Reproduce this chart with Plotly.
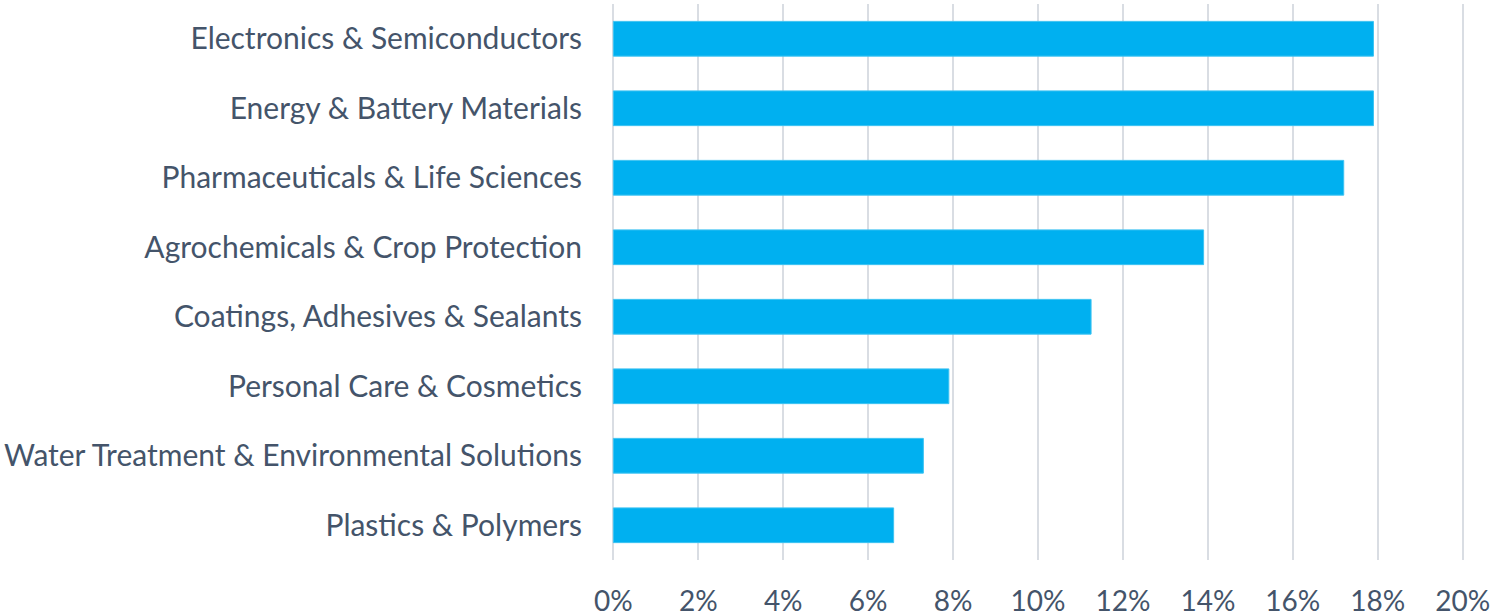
import plotly.graph_objects as go

categories = [
    "Electronics & Semiconductors",
    "Energy & Battery Materials",
    "Pharmaceuticals & Life Sciences",
    "Agrochemicals & Crop Protection",
    "Coatings, Adhesives & Sealants",
    "Personal Care & Cosmetics",
    "Water Treatment & Environmental Solutions",
    "Plastics & Polymers",
]
values = [0.179, 0.179, 0.172, 0.139, 0.1125, 0.079, 0.073, 0.066]
tick_vals = [0, 0.02, 0.04, 0.06, 0.08, 0.10, 0.12, 0.14, 0.16, 0.18, 0.20]
tick_text = ["0%", "2%", "4%", "6%", "8%", "10%", "12%", "14%", "16%", "18%", "20%"]

font_family = "Lato, 'Open Sans', sans-serif"
text_color = "#44546A"

fig = go.Figure(
    go.Bar(
        x=values,
        y=categories,
        orientation="h",
        marker=dict(color="#00B0F0", line=dict(color="#3DC3F2", width=1)),
        hoverinfo="x+y",
    )
)

fig.update_layout(
    width=1491,
    height=616,
    margin=dict(l=607, r=22, t=4, b=56),
    paper_bgcolor="white",
    plot_bgcolor="white",
    bargap=0.5,
    showlegend=False,
    font=dict(family=font_family, color=text_color, size=30),
)
fig.update_xaxes(
    range=[-0.0015, 0.2015],
    tickvals=tick_vals,
    ticktext=tick_text,
    showgrid=True,
    gridcolor="#D9DDE3",
    gridwidth=2,
    zeroline=False,
    showline=False,
    ticks="",
    automargin=False,
    ticklabeloverflow="allow",
    ticklabelstandoff=22,
    tickfont=dict(size=28, color=text_color, family=font_family),
)
fig.update_yaxes(
    categoryorder="array",
    categoryarray=categories[::-1],
    showgrid=False,
    showline=False,
    ticks="",
    automargin=False,
    ticklabelstandoff=24,
    tickfont=dict(size=30, color=text_color, family=font_family),
)

fig.write_html(
    "out.html",
    config={"displayModeBar": False},
    post_script="document.body.style.margin='0';document.body.style.overflow='hidden';",
)
